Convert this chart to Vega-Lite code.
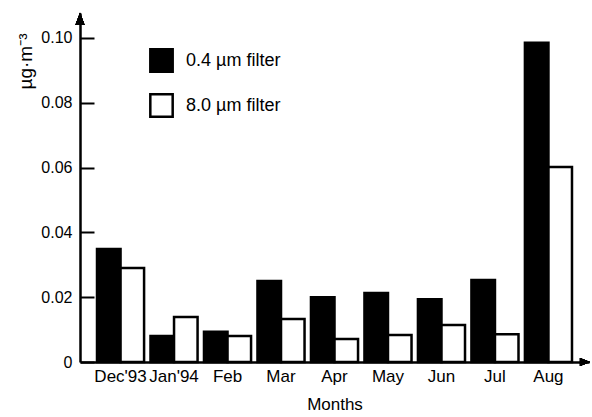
{
  "$schema": "https://vega.github.io/schema/vega-lite/v6.json",
  "autosize": "none",
  "padding": {"left": 80, "top": 13, "right": 3, "bottom": 55},
  "width": 509,
  "height": 349,
  "background": "white",
  "config": {
    "view": {"stroke": null},
    "font": "Liberation Sans",
    "axis": {"labelFont": "Liberation Sans", "titleFont": "Liberation Sans", "labelColor": "black", "titleColor": "black", "titleFontWeight": "normal"}
  },
  "data": {
    "values": [
      {"month": "Dec'93", "filter": "0.4 µm filter", "value": 0.0349},
      {"month": "Dec'93", "filter": "8.0 µm filter", "value": 0.029},
      {"month": "Jan'94", "filter": "0.4 µm filter", "value": 0.008},
      {"month": "Jan'94", "filter": "8.0 µm filter", "value": 0.0139},
      {"month": "Feb", "filter": "0.4 µm filter", "value": 0.0093},
      {"month": "Feb", "filter": "8.0 µm filter", "value": 0.008},
      {"month": "Mar", "filter": "0.4 µm filter", "value": 0.025},
      {"month": "Mar", "filter": "8.0 µm filter", "value": 0.0133},
      {"month": "Apr", "filter": "0.4 µm filter", "value": 0.020},
      {"month": "Apr", "filter": "8.0 µm filter", "value": 0.0071},
      {"month": "May", "filter": "0.4 µm filter", "value": 0.0213},
      {"month": "May", "filter": "8.0 µm filter", "value": 0.0083},
      {"month": "Jun", "filter": "0.4 µm filter", "value": 0.0194},
      {"month": "Jun", "filter": "8.0 µm filter", "value": 0.0114},
      {"month": "Jul", "filter": "0.4 µm filter", "value": 0.0253},
      {"month": "Jul", "filter": "8.0 µm filter", "value": 0.0086},
      {"month": "Aug", "filter": "0.4 µm filter", "value": 0.0985},
      {"month": "Aug", "filter": "8.0 µm filter", "value": 0.0602}
    ]
  },
  "resolve": {"scale": {"x": "independent"}},
  "layer": [
    {
      "mark": {"type": "bar", "stroke": "black", "strokeWidth": 2.5},
      "encoding": {
        "x": {
          "field": "month", "type": "nominal", "sort": null,
          "scale": {"paddingInner": 0.12, "paddingOuter": 0.318},
          "axis": {
            "title": "Months", "labelAngle": 0, "ticks": false,
            "labelFontSize": 17, "labelPadding": 6, "titleFontSize": 17, "titlePadding": 12,
            "domainColor": "black", "domainWidth": 2.5
          }
        },
        "xOffset": {"field": "filter", "type": "nominal", "sort": null},
        "y": {
          "field": "value", "type": "quantitative",
          "scale": {"domain": [0, 0.1077], "nice": false},
          "axis": {
            "title": "µg·m⁻³", "titleFontSize": 19, "titleAngle": -90,
            "titleX": -55, "titleY": 20, "titleAlign": "right", "titleBaseline": "middle",
            "values": [0, 0.01, 0.02, 0.03, 0.04, 0.05, 0.06, 0.07, 0.08, 0.09, 0.1],
            "labelExpr": "round(datum.value*100) % 2 == 0 ? (datum.value == 0 ? '0' : format(datum.value, '.2f')) : ''",
            "labelFontSize": 16, "labelPadding": 8, "ticks": false,
            "grid": true, "gridColor": "black", "gridWidth": 2, "gridOpacity": 1,
            "gridDash": {"condition": {"test": "round(datum.value*100) % 2 == 0", "value": [14, 2000]}, "value": [9, 2000]},
            "domainColor": "black", "domainWidth": 2.5, "zindex": 1
          }
        },
        "fill": {
          "field": "filter", "type": "nominal",
          "scale": {"domain": ["0.4 µm filter", "8.0 µm filter"], "range": ["black", "white"]},
          "legend": {
            "title": null, "orient": "none", "legendX": 69, "legendY": 35,
            "symbolType": "square", "symbolSize": 500, "symbolStrokeColor": "black", "symbolStrokeWidth": 2.5,
            "labelFontSize": 18, "labelColor": "black", "labelOffset": 12, "rowPadding": 12, "labelFont": "Liberation Sans"
          }
        }
      }
    },
    {
      "mark": {"type": "point", "shape": "M-0.75,1L0,-1L0.75,1Z", "filled": true, "color": "black", "size": 144},
      "encoding": {
        "x": {"datum": 0, "type": "quantitative", "scale": {"domain": [0, 1], "nice": false, "zero": false}, "axis": null},
        "y": {"datum": 0.1059, "type": "quantitative"}
      }
    },
    {
      "mark": {"type": "point", "shape": "M-1,-0.8L1,0L-1,0.8Z", "filled": true, "color": "black", "size": 100},
      "encoding": {
        "x": {"datum": 0.992, "type": "quantitative", "scale": {"domain": [0, 1], "nice": false, "zero": false}, "axis": null},
        "y": {"datum": 0, "type": "quantitative"}
      }
    }
  ]
}
